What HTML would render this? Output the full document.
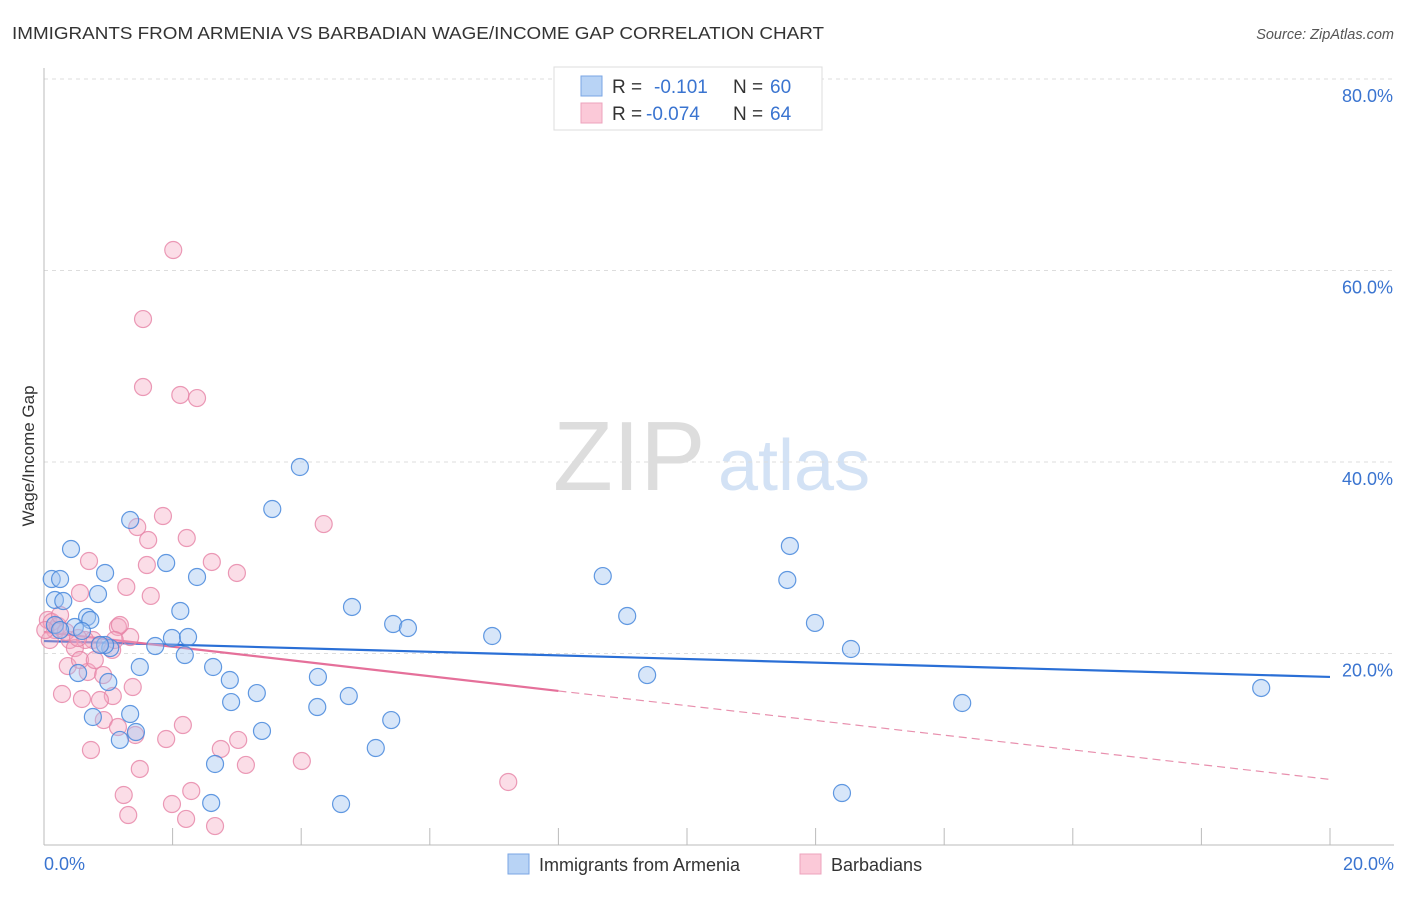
<!DOCTYPE html>
<html><head><meta charset="utf-8"><style>
body{margin:0;background:#fff;font-family:"Liberation Sans",sans-serif;}
svg text{font-family:"Liberation Sans",sans-serif;}
</style></head><body>
<svg id="chart" width="1406" height="892" xmlns="http://www.w3.org/2000/svg">
<text x="12" y="39" font-size="17.5" fill="#333" textLength="812" lengthAdjust="spacingAndGlyphs">IMMIGRANTS FROM ARMENIA VS BARBADIAN WAGE/INCOME GAP CORRELATION CHART</text>
<text x="1394" y="39" font-size="14.5" fill="#555" font-style="italic" text-anchor="end">Source: ZipAtlas.com</text>
<g>
<text x="553" y="490" font-size="98" fill="#ddd" font-family="Liberation Serif, serif">ZIP</text>
<text x="718" y="490" font-size="72" fill="#d3e2f5">atlas</text>
</g>
<g id="grid"></g>
<g id="axes"></g>
<g id="lines"></g>
<g id="pts"></g>
<text transform="translate(34,456) rotate(-90)" font-size="17" fill="#333" text-anchor="middle">Wage/Income Gap</text>
<g>
<rect x="554" y="67" width="268" height="63" fill="#fff" stroke="#ddd"/>
<rect x="581" y="76" width="21" height="20" fill="#b8d3f5" stroke="#7aa6e4"/>
<rect x="581" y="103" width="21" height="20" fill="#fbc9d8" stroke="#eca3bd"/>
<text x="612" y="93" font-size="19" fill="#333">R = </text>
<text x="654" y="93" font-size="19" fill="#3a74d0">-0.101</text>
<text x="733" y="93" font-size="19" fill="#333">N = </text>
<text x="770" y="93" font-size="19" fill="#3a74d0">60</text>
<text x="612" y="120" font-size="19" fill="#333">R = </text>
<text x="646" y="120" font-size="19" fill="#3a74d0">-0.074</text>
<text x="733" y="120" font-size="19" fill="#333">N = </text>
<text x="770" y="120" font-size="19" fill="#3a74d0">64</text>
</g>
<g>
<rect x="508" y="854" width="21" height="20" fill="#b8d3f5" stroke="#7aa6e4"/>
<text x="539" y="871" font-size="18" fill="#333">Immigrants from Armenia</text>
<rect x="800" y="854" width="21" height="20" fill="#fbc9d8" stroke="#eca3bd"/>
<text x="831" y="871" font-size="18" fill="#333">Barbadians</text>
</g>
</svg>
<script>
const blueX=[0.12,0.25,0.17,0.30,0.42,0.95,0.84,1.34,1.90,2.38,2.12,0.67,0.72,0.48,0.59,0.17,1.03,0.95,1.73,1.99,2.24,2.19,2.63,2.89,2.91,3.31,3.39,2.66,2.60,1.18,1.34,1.43,0.76,1.00,0.53,1.49,3.98,3.55,4.79,5.43,5.66,6.97,4.26,4.25,4.74,5.40,5.16,4.62,8.69,9.07,9.38,11.60,11.56,11.99,12.55,14.28,12.41,18.93,0.25,0.87];
const blueY=[27.78,27.78,25.59,25.48,30.91,28.41,26.21,33.94,29.45,27.99,24.44,23.81,23.50,22.77,22.35,22.98,20.57,20.89,20.78,21.62,21.72,19.84,18.59,17.23,14.93,15.87,11.91,8.46,4.39,10.97,13.68,11.80,13.37,17.02,17.96,18.59,39.48,35.09,24.86,23.08,22.66,21.83,17.55,14.41,15.56,13.05,10.13,4.28,28.09,23.92,17.75,31.23,27.68,23.19,20.47,14.83,5.43,16.40,22.45,20.89];
const pinkX=[2.01,1.54,1.54,2.12,2.38,1.85,1.45,2.22,1.62,0.70,2.61,3.00,1.60,1.28,1.66,0.56,4.35,1.34,1.15,1.18,0.40,0.17,0.06,0.12,0.22,0.09,0.34,0.76,0.64,0.87,1.06,0.37,0.48,0.68,0.56,0.92,0.28,0.59,1.07,0.87,1.38,0.93,1.15,1.42,0.73,2.16,1.90,2.75,3.02,3.14,4.01,1.49,1.24,1.31,1.99,2.21,2.29,2.66,7.22,0.25,0.53,0.79,1.10,0.02];
const pinkY=[62.14,54.93,47.83,47.00,46.68,34.36,33.21,32.06,31.85,29.66,29.56,28.41,29.24,26.95,26.01,26.32,33.52,21.72,22.77,22.98,21.41,22.45,23.50,23.29,22.87,21.41,22.25,21.41,21.41,20.89,20.37,18.69,20.57,18.07,19.32,17.75,15.77,15.25,15.56,15.14,16.50,13.05,12.32,11.49,9.92,12.53,11.07,10.03,10.97,8.36,8.77,7.94,5.22,3.13,4.28,2.72,5.64,1.98,6.58,24.02,21.62,19.32,21.41,22.45];
const blueTrend=[21.3,-0.1875];
const pinkTrend=[22.25,-0.77];
const yTicks=[20,40,60,80];
const xTicks=[0,2,4,6,8,10,12,14,16,18,20];
const NS="http://www.w3.org/2000/svg";
const sx=v=>44+v*64.3, sy=v=>845-v*9.575;
function mk(parent,tag,attrs){const e=document.createElementNS(NS,tag);for(const k in attrs)e.setAttribute(k,attrs[k]);document.getElementById(parent).appendChild(e);return e;}
yTicks.forEach(t=>{
  const l=mk('grid','line',{x1:44,x2:1394,y1:sy(t),y2:sy(t),stroke:'#ddd','stroke-dasharray':'4,4'});
  
  
  const tx=mk('grid','text',{x:1393,y:sy(t)+23,'font-size':18,fill:'#3a74d0','text-anchor':'end'});
  tx.textContent=t.toFixed(1)+'%';
  
  
});
mk('axes','line',{x1:44,x2:44,y1:68,y2:845,stroke:'#bbb'});
mk('axes','line',{x1:44,x2:1394,y1:845,y2:845,stroke:'#bbb'});
xTicks.forEach(t=>{
  const l=mk('axes','line',{x1:sx(t),x2:sx(t),y1:828,y2:845,stroke:'#bbb'});
  
  
});
const x0=mk('axes','text',{x:44,y:870,'font-size':18,fill:'#3a74d0'});x0.textContent=xTicks[0].toFixed(1)+'%';


const x1=mk('axes','text',{x:1394,y:870,'font-size':18,fill:'#3a74d0','text-anchor':'end'});x1.textContent=xTicks[xTicks.length-1].toFixed(1)+'%';


function dot(x,y,fill,stroke,name){const c=mk('pts','circle',{cx:sx(x),cy:sy(y),r:8.5,fill:fill,stroke:stroke,'stroke-width':1.2});

}
pinkX.forEach((x,i)=>dot(x,pinkY[i],'rgba(245,165,192,0.38)','rgba(230,130,165,0.8)','barbadian-point'));
blueX.forEach((x,i)=>dot(x,blueY[i],'rgba(160,195,240,0.42)','rgba(70,135,220,0.85)','armenia-point'));
const bl=mk('lines','line',{x1:sx(0),y1:sy(blueTrend[0]),x2:sx(20),y2:sy(blueTrend[0]+blueTrend[1]*20),stroke:'#2a6fd6','stroke-width':2.2});


const pl=mk('lines','line',{x1:sx(0),y1:sy(pinkTrend[0]),x2:sx(8),y2:sy(pinkTrend[0]+pinkTrend[1]*8),stroke:'#e5709a','stroke-width':2.2});


const pd=mk('lines','line',{x1:sx(8),y1:sy(pinkTrend[0]+pinkTrend[1]*8),x2:sx(20),y2:sy(pinkTrend[0]+pinkTrend[1]*20),stroke:'#e890ae','stroke-width':1.2,'stroke-dasharray':'8,5'});


</script>
</body></html>
